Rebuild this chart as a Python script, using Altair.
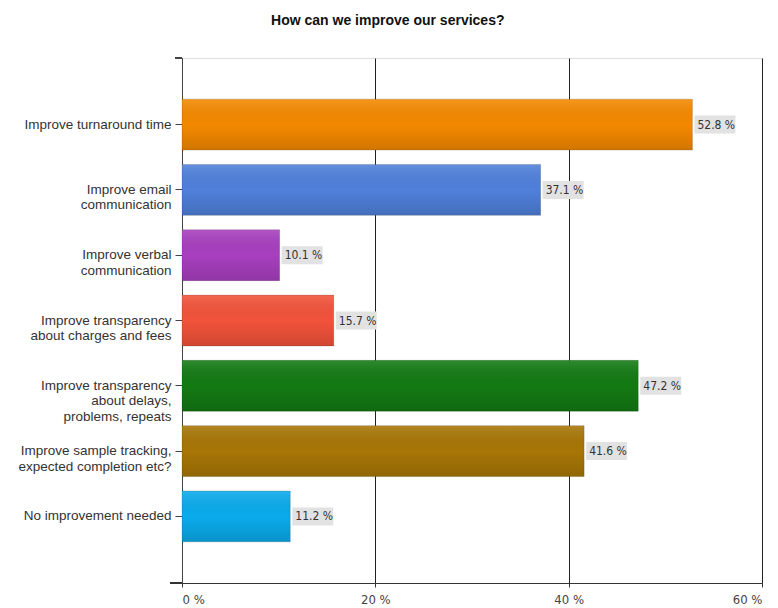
import altair as alt
import pandas as pd

categories = [
    "Improve turnaround time",
    "Improve email|communication",
    "Improve verbal|communication",
    "Improve transparency|about charges and fees",
    "Improve transparency|about delays,|problems, repeats",
    "Improve sample tracking,|expected completion etc?",
    "No improvement needed",
]
values = [52.8, 37.1, 10.1, 15.7, 47.2, 41.6, 11.2]
colors = ["#f48900", "#4f80da", "#a83fbf", "#f2533a", "#137a13", "#a87606", "#0aabec"]
x_ticks = [0, 20, 40, 60]

df = pd.DataFrame({
    "category": categories,
    "value": values,
    "label": [f"{v:.1f} %" for v in values],
})

FONT = "Liberation Sans, Arial, sans-serif"
NARROW = "Liberation Sans Narrow, DejaVu Sans Condensed, Roboto Condensed, Liberation Sans, sans-serif"

y_enc = alt.Y(
    "category:N",
    sort=categories,
    scale=alt.Scale(paddingInner=0.22, paddingOuter=0.63),
    axis=alt.Axis(
        title=None,
        labelExpr="split(datum.label, '|')",
        labelFont=FONT,
        labelFontSize=13.5,
        labelColor="#333333",
        labelLineHeight=15.5,
        labelPadding=4,
        tickSize=7,
        tickColor="#444444",
        domainColor="#444444",
        labelLimit=300,
        minExtent=169,
        maxExtent=169,
        grid=False,
    ),
)
x_enc = alt.X(
    "value:Q",
    scale=alt.Scale(domain=[0, 60], nice=False),
    axis=alt.Axis(
        title=None,
        values=x_ticks,
        labelExpr="datum.value + ' %'",
        labelFont=NARROW,
        labelFontSize=13,
        labelColor="#444444",
        tickSize=4,
        tickColor="#333333",
        domainColor="#333333",
        grid=True,
        gridColor="#222222",
        gridOpacity=1,
        labelPadding=6,
    ),
)

base = alt.Chart(df)

bars = base.mark_bar().encode(
    x=x_enc,
    y=y_enc,
    color=alt.Color("category:N", scale=alt.Scale(domain=categories, range=colors), legend=None),
)

shade = base.mark_bar(
    color=alt.Gradient(
        gradient="linear",
        stops=[
            alt.GradientStop(color="rgba(255,255,255,0.12)", offset=0),
            alt.GradientStop(color="rgba(0,0,0,0.0)", offset=0.5),
            alt.GradientStop(color="rgba(0,0,0,0.14)", offset=1),
        ],
        x1=0, x2=0, y1=0, y2=1,
    ),
    stroke="rgba(0,0,0,0.15)",
    strokeWidth=1,
).encode(x="value:Q", y=alt.Y("category:N", sort=categories))

boxes = base.mark_bar(color="#e2e2e2", height=18, xOffset=2, x2Offset=43).encode(
    x="value:Q", x2="value:Q", y=alt.Y("category:N", sort=categories)
)

texts = base.mark_text(
    align="left", baseline="middle", dx=5, font=NARROW, fontSize=12, color="#333333"
).encode(x="value:Q", y=alt.Y("category:N", sort=categories), text="label:N")

top_tick = alt.Chart(df).mark_rule(color="#444444").encode(
    x=alt.value(-7), x2=alt.value(0), y=alt.value(0)
)
left_ext = alt.Chart(df).mark_rule(color="#333333").encode(
    x=alt.value(-12), x2=alt.value(0), y=alt.value(525)
)

chart = alt.layer(bars, shade, boxes, texts, top_tick, left_ext).properties(
    width=580,
    height=525,
    title=alt.Title(
        "How can we improve our services?",
        font=FONT,
        fontSize=14,
        fontWeight="bold",
        color="#111111",
        anchor="middle",
        frame="bounds",
        offset=30,
    ),
).configure_view(stroke=None).configure(background="white")

chart.save("out.html", embed_options={"renderer": "svg", "actions": False})
